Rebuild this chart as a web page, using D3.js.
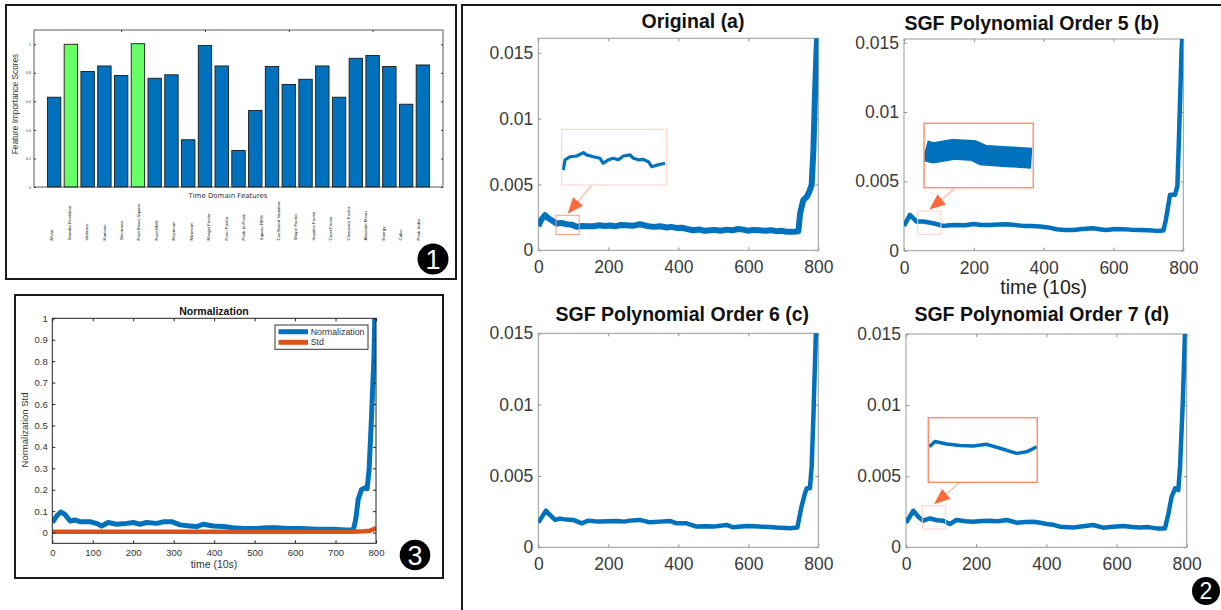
<!DOCTYPE html>
<html><head><meta charset="utf-8">
<script src="https://cdn.jsdelivr.net/npm/d3@7"></script>
<style>body{margin:0;background:#fff} svg{display:block}</style>
</head><body><svg id="c" width="1221" height="610"></svg>
<script>
// ================= DATA =================
// Panel 1: feature importance
const featureLabels = ["Mean","Standar Deviation","Variance","Kurtosis","Skewness","Root Mean Square","Root RMS","Maximum","Minimum","Margin Factor","Form Factor","Peak to Peak","Square RMS","Coefficient Variation","Shape Factor","Impulse Factor","Crest Factor","Clearance Factor","Absolute Mean","Energy","Cubic","Peak Index"];
const featureScores = [0.629,1.0,0.809,0.848,0.781,1.004,0.762,0.786,0.331,0.991,0.848,0.256,0.536,0.844,0.718,0.755,0.848,0.629,0.902,0.921,0.844,0.580,0.855];
const highlighted = [1,5];
const p1YTicks = [0,0.2,0.4,0.6,0.8,1];
const p1XTicks = [5,10,15,20];

// Panel 3: normalization
const normT = [0,11,21,31,44,56,68,93,110,122,138,159,184,200,217,233,258,274,295,316,340,357,373,398,423,447,472,505,530,554,579,612,653,694,727,744,750,756,764,773,778,783,789,795,797];
const normV = [0.047,0.078,0.096,0.085,0.054,0.059,0.051,0.051,0.042,0.031,0.047,0.039,0.043,0.047,0.039,0.047,0.043,0.05,0.051,0.036,0.031,0.028,0.039,0.031,0.028,0.023,0.019,0.019,0.023,0.023,0.019,0.019,0.016,0.016,0.012,0.012,0.062,0.155,0.2,0.209,0.205,0.295,0.543,0.822,1.0];
const stdT = [0,200,400,600,740,770,785,795,800];
const stdV = [0.004,0.004,0.004,0.004,0.004,0.006,0.009,0.016,0.024];
const p3XTicks = [0,100,200,300,400,500,600,700,800];
const p3YTicks = [0,0.1,0.2,0.3,0.4,0.5,0.6,0.7,0.8,0.9,1];

// Panel 2: (a) original, (b) SGF order 5, (c) SGF order 6, (d) SGF order 7
const origT = [0,8,19,28,38,52,66,81,95,110,125,140,157,175,190,205,220,235,252,270,290,310,329,348,367,380,395,410,425,443,460,475,490,505,520,538,555,570,586,600,615,633,650,665,681,695,710,729,743,748,757,767,774,781,786,790,795,800];
const origV = [0.00183,0.0023,0.00267,0.00245,0.00228,0.00203,0.00208,0.00198,0.00195,0.00178,0.00185,0.00182,0.00183,0.0019,0.00184,0.00188,0.00182,0.00192,0.0019,0.00186,0.00198,0.00185,0.00178,0.00183,0.00173,0.00178,0.0017,0.00172,0.00162,0.00152,0.00158,0.00148,0.00152,0.00155,0.00148,0.00157,0.00152,0.00162,0.00157,0.00148,0.00155,0.00152,0.00148,0.00153,0.00145,0.00148,0.0014,0.0014,0.00145,0.00279,0.0038,0.00406,0.00444,0.00495,0.0076,0.0114,0.0152,0.0175];
const sgf5T = [0,17,36,55,84,113,130,151,175,199,222,246,270,294,318,342,365,389,413,437,460,485,510,542,560,580,605,628,650,676,700,724,743,750,762,776,783,788,795,800];
const sgf5V = [0.00179,0.00258,0.0021,0.0021,0.00198,0.00179,0.00184,0.00186,0.00183,0.00193,0.00186,0.00186,0.00189,0.00191,0.00185,0.00179,0.00178,0.00174,0.00168,0.00155,0.0015,0.0015,0.00156,0.00162,0.00155,0.0015,0.00157,0.00155,0.00152,0.0015,0.00148,0.00143,0.00145,0.00222,0.00403,0.00403,0.00464,0.0085,0.0145,0.0165];
const sgf6T = [0,22,33,48,62,80,100,124,143,160,176,200,224,245,262,290,319,348,376,395,424,452,475,500,538,557,595,633,660,681,719,740,752,762,767,776,781,786,793,800];
const sgf6V = [0.00173,0.00257,0.00227,0.00192,0.00201,0.00194,0.00192,0.00168,0.00187,0.00182,0.0018,0.00183,0.00185,0.0018,0.00187,0.00192,0.00175,0.0018,0.00185,0.00168,0.00168,0.00145,0.00147,0.00145,0.00157,0.0014,0.0015,0.00145,0.00143,0.00138,0.00133,0.00138,0.00285,0.00379,0.00414,0.00414,0.00565,0.00916,0.015,0.0165];
const sgf7T = [0,21,35,49,68,88,106,125,144,170,192,215,239,262,287,315,340,363,383,401,420,439,477,505,534,562,590,619,645,667,690,714,738,748,757,767,776,781,789,795,800];
const sgf7V = [0.00173,0.00257,0.00215,0.00187,0.00203,0.0019,0.00187,0.00164,0.00192,0.00183,0.0018,0.00185,0.00187,0.00183,0.00192,0.00173,0.00178,0.0018,0.00172,0.00164,0.00158,0.00145,0.0014,0.00148,0.00157,0.00138,0.00145,0.0015,0.00143,0.0014,0.00142,0.00133,0.00133,0.00238,0.00355,0.00414,0.00402,0.00565,0.0103,0.015,0.0165];
// zoomed insets (same units, magnified)
const insetAT = [51.6,52.7,55.8,60.1,64.3,66.4,70.6,74.8,76.9,80.1,83.2,86.4,89.6,93.8,95.9,99.1,102.2,105.4,107.5,110.7,115.9];
const insetAV = [0.00159,0.00186,0.00194,0.00196,0.00205,0.00199,0.00194,0.0019,0.00177,0.00186,0.0019,0.00186,0.00196,0.00199,0.0019,0.00186,0.00187,0.00181,0.00168,0.00172,0.00177];
const insetBT = [39.8,44.9,57.1,69.3,75.4,89.7,105];
const insetBV = [0.00215,0.00209,0.00218,0.00215,0.00203,0.00199,0.00195];
const insetDT = [47.1,50.6,57.7,65.9,74.0,82.2,90.3,100.5,106.6,112.8];
const insetDV = [0.00219,0.00232,0.00226,0.00222,0.00221,0.00225,0.00215,0.00202,0.00206,0.00219];
const p2XTicks = [0,200,400,600,800];
const p2YTicks = [0,0.005,0.01,0.015];

// ================= DRAWING =================
const FONT = '"Liberation Sans", Arial, Helvetica, sans-serif';
const BLUE = '#0072BD', ORANGE = '#D95319', GREEN = '#66FF66';
const svg = d3.select('#c').style('font-family', FONT);
const pairs = (a, b) => a.slice(0, Math.min(a.length, b.length)).map((t, i) => [t, b[i]]);

// frames
svg.append('rect').attr('x', 6).attr('y', 5).attr('width', 450).attr('height', 274)
  .attr('fill', 'none').attr('stroke', '#1a1a1a').attr('stroke-width', 2);
svg.append('rect').attr('x', 15).attr('y', 295).attr('width', 428).attr('height', 283)
  .attr('fill', 'none').attr('stroke', '#1a1a1a').attr('stroke-width', 2);
svg.append('path').attr('d', 'M462,612V5H1223').attr('fill', 'none').attr('stroke', '#1a1a1a').attr('stroke-width', 2);

function badge(cx, cy, r, label, fs) {
  svg.append('circle').attr('cx', cx).attr('cy', cy).attr('r', r).attr('fill', '#000');
  svg.append('text').attr('x', cx).attr('y', cy + fs * 0.36).attr('text-anchor', 'middle')
    .attr('fill', '#fff').attr('font-size', fs).text(label);
}

function styleAxis(g, tickColor, textColor, fs) {
  g.select('.domain').remove();
  g.selectAll('.tick line').attr('stroke', tickColor);
  g.selectAll('.tick text').attr('fill', textColor).attr('font-size', fs).attr('font-family', FONT);
}

// ---------- Panel 1 ----------
(function () {
  const L = 34, R = 443, T = 30, B = 187;
  const x = d3.scaleLinear().domain([-0.2, 24.2]).range([L, R]);
  const y = d3.scaleLinear().domain([0, 1.1]).range([B, T]);
  const g = svg.append('g');
  g.append('rect').attr('x', L).attr('y', T).attr('width', R - L).attr('height', B - T).attr('fill', '#fff');
  const bw = (x(1) - x(0)) * 0.8;
  g.selectAll('rect.bar').data(featureScores).join('rect').attr('class', 'bar')
    .attr('x', (d, i) => x(i + 1) - bw / 2).attr('width', bw)
    .attr('y', d => y(d)).attr('height', d => y(0) - y(d))
    .attr('fill', (d, i) => highlighted.includes(i) ? GREEN : BLUE)
    .attr('stroke', '#1a1a1a').attr('stroke-width', 0.9);
  const f = d => d === 0 ? '0' : (d === 1 ? '1' : d3.format('.1f')(d));
  styleAxis(g.append('g').attr('transform', `translate(${L},0)`).call(d3.axisLeft(y).tickValues(p1YTicks).tickSize(-2).tickPadding(3).tickFormat(f)), '#333', '#333', 3.6);
  styleAxis(g.append('g').attr('transform', `translate(${R},0)`).call(d3.axisRight(y).tickValues(p1YTicks).tickSize(-2).tickFormat('')), '#333', '#333', 3.6);
  styleAxis(g.append('g').attr('transform', `translate(0,${T})`).call(d3.axisTop(x).tickValues(p1XTicks).tickSize(-2).tickFormat('')), '#333', '#333', 3.6);
  styleAxis(g.append('g').attr('transform', `translate(0,${B})`).call(d3.axisBottom(x).tickValues(p1XTicks).tickSize(-2).tickFormat('')), '#333', '#333', 3.6);
  g.append('rect').attr('x', L).attr('y', T).attr('width', R - L).attr('height', B - T)
    .attr('fill', 'none').attr('stroke', '#333').attr('stroke-width', 0.8);
  g.append('text').attr('transform', `translate(18.3,104) rotate(-90)`).attr('text-anchor', 'middle')
    .attr('font-size', 8.3).attr('fill', '#333').text('Feature Importance Scores');
  g.append('text').attr('x', 228).attr('y', 197.5).attr('text-anchor', 'middle')
    .attr('font-family', '"DejaVu Sans", sans-serif').attr('font-size', 7).attr('fill', '#333').text('Time Domain Features');
  const lx = d3.scalePoint().domain(featureLabels).range([51.7, 418]);
  g.selectAll('text.fl').data(featureLabels).join('text').attr('class', 'fl')
    .attr('transform', d => `translate(${lx(d) + 1.5},240.5) rotate(-90)`)
    .attr('font-size', 4.4).attr('fill', '#111').text(d => d);
  badge(433, 259, 15.5, '1', 27);
})();

// ---------- Panel 3 ----------
(function () {
  const L = 52.3, R = 376, T = 318.3, B = 543.3;
  const x = d3.scaleLinear().domain([0, 800]).range([L, R]);
  const y = d3.scaleLinear().domain([-0.05, 1]).range([B, T]);
  const g = svg.append('g');
  g.append('clipPath').attr('id', 'cp3').append('rect').attr('x', L).attr('y', T - 1).attr('width', R - L).attr('height', B - T + 1);
  const line = d3.line().x(d => x(d[0])).y(d => y(d[1]));
  g.append('path').datum(pairs(normT, normV)).attr('d', line).attr('fill', 'none').attr('stroke', BLUE)
    .attr('stroke-width', 5).attr('stroke-linejoin', 'round').attr('clip-path', 'url(#cp3)');
  g.append('path').datum(pairs(stdT, stdV)).attr('d', line).attr('fill', 'none').attr('stroke', ORANGE)
    .attr('stroke-width', 4.5).attr('stroke-linejoin', 'round').attr('clip-path', 'url(#cp3)');
  const fy = d => d === 0 ? '0' : (d === 1 ? '1' : d3.format('.1f')(d));
  styleAxis(g.append('g').attr('transform', `translate(0,${B})`).call(d3.axisBottom(x).tickValues(p3XTicks).tickSize(-3).tickPadding(6)), '#222', '#333', 9.5);
  styleAxis(g.append('g').attr('transform', `translate(0,${T})`).call(d3.axisTop(x).tickValues(p3XTicks).tickSize(-3).tickFormat('')), '#222', '#333', 9.5);
  styleAxis(g.append('g').attr('transform', `translate(${L},0)`).call(d3.axisLeft(y).tickValues(p3YTicks).tickSize(-3).tickPadding(4.5).tickFormat(fy)), '#222', '#333', 9.5);
  styleAxis(g.append('g').attr('transform', `translate(${R},0)`).call(d3.axisRight(y).tickValues(p3YTicks).tickSize(-3).tickFormat('')), '#222', '#333', 9.5);
  g.append('rect').attr('x', L).attr('y', T).attr('width', R - L).attr('height', B - T)
    .attr('fill', 'none').attr('stroke', '#222').attr('stroke-width', 1);
  g.append('text').attr('x', 214).attr('y', 314.5).attr('text-anchor', 'middle').attr('font-weight', 'bold')
    .attr('font-size', 10.5).attr('fill', '#111').text('Normalization');
  g.append('text').attr('x', 214).attr('y', 567.5).attr('text-anchor', 'middle')
    .attr('font-size', 10.5).attr('fill', '#333').text('time (10s)');
  g.append('text').attr('transform', 'translate(28,430) rotate(-90)').attr('text-anchor', 'middle')
    .attr('font-size', 9.5).attr('fill', '#333').text('Normalization Std');
  // legend
  const lg = g.append('g');
  lg.append('rect').attr('x', 275).attr('y', 325).attr('width', 93).attr('height', 24.3)
    .attr('fill', '#fff').attr('stroke', '#333').attr('stroke-width', 1);
  [['Normalization', BLUE, 331.7], ['Std', ORANGE, 342.3]].forEach(([n, c, yy]) => {
    lg.append('line').attr('x1', 278.5).attr('x2', 308).attr('y1', yy).attr('y2', yy).attr('stroke', c).attr('stroke-width', 5);
    lg.append('text').attr('x', 310.7).attr('y', yy + 3).attr('font-size', 8.8).attr('fill', '#333').text(n);
  });
  badge(415, 555, 15.3, '3', 27);
})();

// ---------- Panel 2 ----------
function subplot(o) {
  const x = d3.scaleLinear().domain([0, 800]).range([o.l, o.r]);
  const y = d3.scaleLinear().domain([0, o.ymax]).range([o.b, o.t]);
  const g = svg.append('g');
  g.append('clipPath').attr('id', 'cp' + o.id).append('rect').attr('x', o.l).attr('y', o.t).attr('width', o.r - o.l).attr('height', o.b - o.t);
  g.append('rect').attr('x', o.l).attr('y', o.t).attr('width', o.r - o.l).attr('height', o.b - o.t).attr('fill', '#fff');
  const fy = d => d === 0 ? '0' : String(+d.toFixed(3));
  const tc = '#8c8c8c', txt = '#3a3a3a', fs = 17.5;
  styleAxis(g.append('g').attr('transform', `translate(0,${o.b})`).call(d3.axisBottom(x).tickValues(p2XTicks).tickSize(-3).tickPadding(10.5)), tc, txt, fs);
  styleAxis(g.append('g').attr('transform', `translate(0,${o.t})`).call(d3.axisTop(x).tickValues(p2XTicks).tickSize(-3).tickFormat('')), tc, txt, fs);
  styleAxis(g.append('g').attr('transform', `translate(${o.l},0)`).call(d3.axisLeft(y).tickValues(p2YTicks).tickSize(-3).tickPadding(5).tickFormat(fy)), tc, txt, fs);
  styleAxis(g.append('g').attr('transform', `translate(${o.r},0)`).call(d3.axisRight(y).tickValues(p2YTicks).tickSize(-3).tickFormat('')), tc, txt, fs);
  g.append('rect').attr('x', o.l).attr('y', o.t).attr('width', o.r - o.l).attr('height', o.b - o.t)
    .attr('fill', 'none').attr('stroke', '#999').attr('stroke-width', 1);
  const line = d3.line().x(d => x(d[0])).y(d => y(d[1]));
  g.append('path').datum(pairs(o.T, o.V)).attr('d', line).attr('fill', 'none').attr('stroke', BLUE)
    .attr('stroke-width', o.lw).attr('stroke-linejoin', 'round').attr('clip-path', `url(#cp${o.id})`);
  g.append('text').attr('x', o.titleX).attr('y', o.titleY).attr('text-anchor', 'middle').attr('font-weight', 'bold')
    .attr('font-size', 19.5).attr('fill', '#111').text(o.title);
  if (o.xlabel) g.append('text').attr('x', (o.l + o.r) / 2).attr('y', o.b + 43.5).attr('text-anchor', 'middle')
    .attr('font-size', 19.5).attr('fill', '#222').text(o.xlabel);
  if (o.inset) {
    const s = o.inset;
    const rx0 = x(s.win[0]), rx1 = x(s.win[1]), ry0 = y(s.win[3]), ry1 = y(s.win[2]);
    g.append('rect').attr('x', rx0).attr('y', ry0).attr('width', rx1 - rx0).attr('height', ry1 - ry0)
      .attr('fill', 'none').attr('stroke', s.rectColor).attr('stroke-width', 1);
    const [bx0, by0, bx1, by1] = s.box;
    g.append('clipPath').attr('id', 'ci' + o.id).append('rect').attr('x', bx0).attr('y', by0).attr('width', bx1 - bx0).attr('height', by1 - by0);
    g.append('rect').attr('x', bx0).attr('y', by0).attr('width', bx1 - bx0).attr('height', by1 - by0).attr('fill', '#fff');
    const ix = d3.scaleLinear().domain([s.win[0], s.win[1]]).range([bx0, bx1]);
    const iy = d3.scaleLinear().domain([s.win[2], s.win[3]]).range([by1, by0]);
    g.append('path').datum(pairs(s.T, s.V)).attr('d', d3.line().x(d => ix(d[0])).y(d => iy(d[1])))
      .attr('fill', 'none').attr('stroke', BLUE).attr('stroke-width', s.lw).attr('stroke-linejoin', 'round')
      .attr('clip-path', `url(#ci${o.id})`);
    g.append('rect').attr('x', bx0).attr('y', by0).attr('width', bx1 - bx0).attr('height', by1 - by0)
      .attr('fill', 'none').attr('stroke', s.boxColor).attr('stroke-width', s.boxW);
    // arrow
    const sx = bx0 + 0.28 * (bx1 - bx0), sy = by1 + 1;
    const tx = (rx0 + rx1) / 2, ty = ry0 - 1.5;
    const dx = tx - sx, dy = ty - sy, len = Math.hypot(dx, dy), ux = dx / len, uy = dy / len;
    const hl = 16, hw = 6.5, bxm = tx - ux * hl, bym = ty - uy * hl;
    g.append('line').attr('x1', sx).attr('y1', sy).attr('x2', bxm).attr('y2', bym).attr('stroke', '#ffb8a4').attr('stroke-width', 1.2);
    g.append('path').attr('d', `M${tx},${ty}L${bxm - uy * hw},${bym + ux * hw}L${bxm + uy * hw},${bym - ux * hw}Z`).attr('fill', '#ff6a3d');
  }
}

subplot({ id: 'a', l: 538.3, r: 818.3, t: 38.3, b: 250.3, ymax: 0.0161, T: origT, V: origV, lw: 6,
  title: 'Original (a)', titleX: 693, titleY: 28,
  inset: { win: [50.6, 117, 0.0012, 0.00266], box: [561.7, 129.3, 666.7, 185], T: insetAT, V: insetAV, lw: 3.2,
    rectColor: '#ff9c80', boxColor: '#ffd0c8', boxW: 1 } });
subplot({ id: 'b', l: 904, r: 1183.3, t: 39, b: 250.7, ymax: 0.01527, T: sgf5T, V: sgf5V, lw: 4.5,
  title: 'SGF Polynomial Order 5 (b)', titleX: 1031.7, titleY: 29.5, xlabel: 'time (10s)',
  inset: { win: [39.2, 106, 0.00118, 0.00286], box: [924, 123.3, 1033.3, 187.7], T: insetBT, V: insetBV, lw: 21,
    rectColor: '#ffd0c8', boxColor: '#ff9070', boxW: 1.5 } });
subplot({ id: 'c', l: 538.3, r: 818.3, t: 333.3, b: 547.3, ymax: 0.015, T: sgf6T, V: sgf6V, lw: 4.5,
  title: 'SGF Polynomial Order 6 (c)', titleX: 682.3, titleY: 321 });
subplot({ id: 'd', l: 906, r: 1186.7, t: 334, b: 547.3, ymax: 0.015, T: sgf7T, V: sgf7V, lw: 4.5,
  title: 'SGF Polynomial Order 7 (d)', titleX: 1041.7, titleY: 321,
  inset: { win: [46.5, 113.1, 0.001287, 0.002925], box: [928.3, 417.7, 1037.3, 482.3], T: insetDT, V: insetDV, lw: 3.5,
    rectColor: '#ffd0c8', boxColor: '#ff9070', boxW: 1.5 } });

badge(1206, 591, 14, '2', 23);
</script></body></html>
